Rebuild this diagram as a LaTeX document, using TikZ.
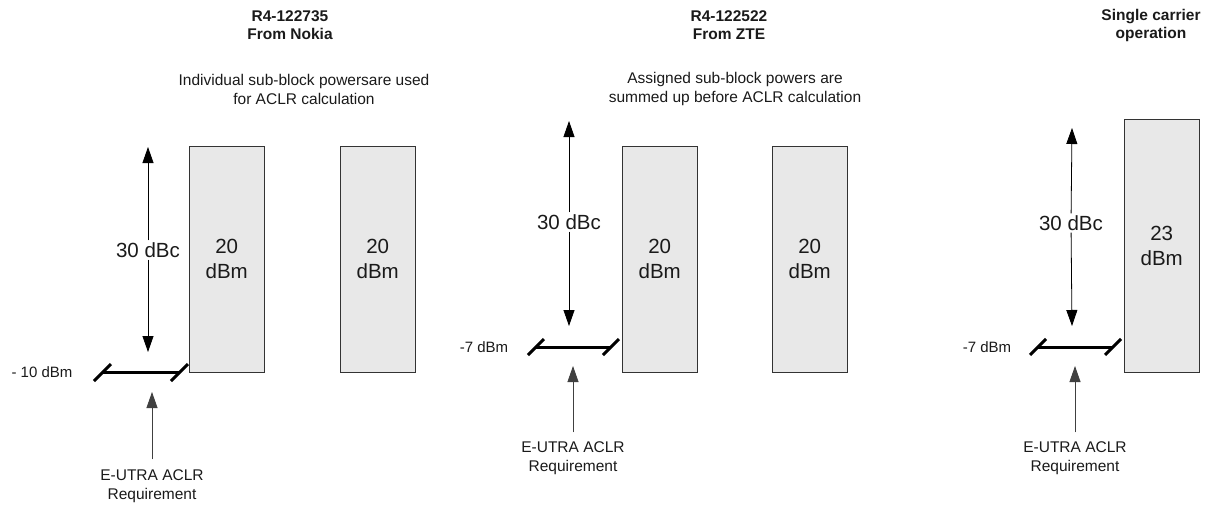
\documentclass[tikz,border=0pt]{standalone}
\usepackage{fontspec}
\setmainfont{Liberation Sans}
\definecolor{boxgray}{HTML}{E8E8E8}
\definecolor{edgegray}{HTML}{333333}
\definecolor{inkgray}{HTML}{1A1A1A}
\usetikzlibrary{arrows.meta, positioning}
\tikzset{
	ttl/.style={align=center, font=\fontsize{15.5}{18}\selectfont\bfseries, text=inkgray, inner sep=0pt},
	note/.style={align=center, font=\fontsize{15.5}{19}\selectfont, text=inkgray, inner sep=0pt},
	pwrbox/.style={draw=edgegray, fill=boxgray, minimum width=75pt, align=center,
		font=\fontsize{20.5}{25}\selectfont, text=inkgray, inner sep=0pt, anchor=north west},
	dbc/.style={font=\fontsize{20.5}{24}\selectfont, text=inkgray, inner sep=2pt},
	lvl/.style={font=\fontsize{15}{18}\selectfont, text=inkgray, inner sep=0pt},
	darr/.style={-{Triangle[length=16pt, width=11pt]}, line width=0.8pt, draw=black},
	uarr/.style={-{Triangle[length=16pt, width=11pt]}, line width=0.8pt, draw=black!75},
	lvlline/.style={line width=3pt, draw=black, line cap=butt}
}

\begin{document}
\begin{tikzpicture}[x=1pt, y=-1pt]
	\useasboundingbox (0,0) rectangle (1208,504);

	% panel 1: Nokia
	\node[ttl] (ttlA) at (290,25) {R4-122735\\From Nokia};
	\node[note] (noteA) at (304,89) {Individual sub-block powersare used\\for ACLR calculation};
	\node[pwrbox, minimum height=226pt] (boxA1) at (189,146) {20\\dBm};
	\node[pwrbox, minimum height=226pt] (boxA2) at (340,146) {20\\dBm};
	\node[dbc] (dbcA) at (148,250) {30 dBc};
	\coordinate (topA) at (148,147);
	\coordinate (botA) at (148,352);
	\draw[darr] (dbcA) -- (topA);
	\draw[darr] (dbcA) -- (botA);
	\coordinate (lvlAl) at (103,372);
	\coordinate (lvlAr) at (180,372);
	\draw[lvlline] (lvlAl) -- (lvlAr);
	\draw[lvlline] ([shift={(-9,9)}]lvlAl) -- ([shift={(8,-8)}]lvlAl);
	\draw[lvlline] ([shift={(-9,9)}]lvlAr) -- ([shift={(8,-8)}]lvlAr);
	\node[lvl] (lvlA) at (42,372) {- 10 dBm};
	\node[note] (reqA) at (152,486) {E-UTRA ACLR\\Requirement};
	\coordinate (reqtipA) at (152,392);
	\draw[uarr] ([yshift=10pt]reqA.north) -- (reqtipA);

	% panel 2: ZTE
	\node[ttl] (ttlB) at (729,25) {R4-122522\\From ZTE};
	\node[note] (noteB) at (735,89) {Assigned sub-block powers are\\summed up before ACLR calculation};
	\node[pwrbox, minimum height=226pt] (boxB1) at (622,146) {20\\dBm};
	\node[pwrbox, minimum height=226pt] (boxB2) at (772,146) {20\\dBm};
	\node[dbc] (dbcB) at (569,222) {30 dBc};
	\coordinate (topB) at (569,121);
	\coordinate (botB) at (569,326);
	\draw[darr] (dbcB) -- (topB);
	\draw[darr] (dbcB) -- (botB);
	\coordinate (lvlBl) at (536,347);
	\coordinate (lvlBr) at (611,347);
	\draw[lvlline] (lvlBl) -- (lvlBr);
	\draw[lvlline] ([shift={(-8,8)}]lvlBl) -- ([shift={(8,-8)}]lvlBl);
	\draw[lvlline] ([shift={(-8,8)}]lvlBr) -- ([shift={(8,-8)}]lvlBr);
	\node[lvl] (lvlB) at (484,347) {-7 dBm};
	\node[note] (reqB) at (573,458) {E-UTRA ACLR\\Requirement};
	\coordinate (reqtipB) at (573,366);
	\draw[uarr] ([yshift=9pt]reqB.north) -- (reqtipB);

	% panel 3: single carrier
	\node[ttl] (ttlC) at (1151,25) {Single carrier\\operation};
	\node[pwrbox, minimum height=253pt] (boxC) at (1124,119) {23\\dBm};
	\node[dbc] (dbcC) at (1071,223) {30 dBc};
	\coordinate (topC) at (1072,128);
	\coordinate (botC) at (1072,326);
	\draw[darr] (dbcC) -- (topC);
	\draw[darr] (dbcC) -- (botC);
	\coordinate (lvlCl) at (1038,347);
	\coordinate (lvlCr) at (1113,347);
	\draw[lvlline] (lvlCl) -- (lvlCr);
	\draw[lvlline] ([shift={(-8,8)}]lvlCl) -- ([shift={(8,-8)}]lvlCl);
	\draw[lvlline] ([shift={(-8,8)}]lvlCr) -- ([shift={(8,-8)}]lvlCr);
	\node[lvl] (lvlC) at (987,347) {-7 dBm};
	\node[note] (reqC) at (1075,458) {E-UTRA ACLR\\Requirement};
	\coordinate (reqtipC) at (1075,366);
	\draw[uarr] ([yshift=9pt]reqC.north) -- (reqtipC);
\end{tikzpicture}
\end{document}
